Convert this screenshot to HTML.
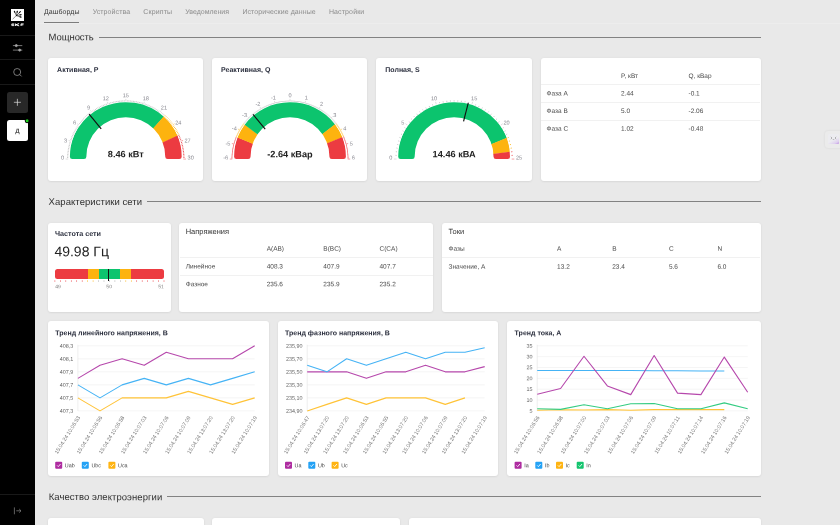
<!DOCTYPE html><html><head><meta charset="utf-8"><style>
*{box-sizing:border-box;margin:0;padding:0}
html,body{width:840px;height:525px;overflow:hidden;background:#e9e9e9;font-family:"Liberation Sans",sans-serif}
.abs{position:absolute}
.card{position:absolute;background:#fff;border-radius:3px;box-shadow:0 0 3px rgba(0,0,0,0.05),0 1px 2px rgba(0,0,0,0.05)}
.side{position:absolute;left:0;top:0;width:35px;height:525px;background:#000}
.sdiv{position:absolute;left:0;width:35px;height:1px;background:#191919}
.hl{position:absolute;height:1px;background:#828282}
.hr{position:absolute;height:1px;background:#f1f1f1}
svg{position:absolute;left:0;top:0;overflow:visible}
text{font-family:"Liberation Sans",sans-serif;text-rendering:geometricPrecision}
</style></head><body>

<div class="side">
<div class="abs" style="left:10.9px;top:8.8px;width:13px;height:12.3px;background:#fff"></div>
<div class="sdiv" style="top:35px"></div><div class="sdiv" style="top:59px"></div><div class="sdiv" style="top:84px"></div><div class="sdiv" style="top:494px"></div>
<div class="abs" style="left:6.8px;top:91.8px;width:21.2px;height:20.9px;border-radius:2.5px;background:#282828"></div>
<div class="abs" style="left:6.8px;top:119.8px;width:21.2px;height:21.1px;border-radius:2.5px;background:#fff"></div>
</div>
<div class="abs" style="left:35px;top:23px;width:805px;height:1px;background:#ededed"></div>
<div class="abs" style="left:44px;top:21.5px;width:35.4px;height:1px;background:#7c7c7c"></div>
<div class="hl" style="left:99px;top:36.5px;width:662px"></div>
<div class="hl" style="left:147px;top:201.1px;width:614px"></div>
<div class="hl" style="left:167px;top:496.3px;width:594px"></div>
<div class="card" style="left:48px;top:58px;width:155.3px;height:122.6px"></div>
<div class="card" style="left:212.2px;top:58px;width:155.3px;height:122.6px"></div>
<div class="card" style="left:376.3px;top:58px;width:155.3px;height:122.6px"></div>
<div class="card" style="left:540.5px;top:58px;width:220.5px;height:122.6px"></div>
<div class="card" style="left:48px;top:222.5px;width:122.80000000000001px;height:89.30000000000001px"></div>
<div class="card" style="left:179.4px;top:222.5px;width:253.6px;height:89.30000000000001px"></div>
<div class="card" style="left:442px;top:222.5px;width:319px;height:89.30000000000001px"></div>
<div class="card" style="left:48px;top:320.8px;width:221.10000000000002px;height:155.3px"></div>
<div class="card" style="left:277.9px;top:320.8px;width:220.60000000000002px;height:155.3px"></div>
<div class="card" style="left:507px;top:320.8px;width:254px;height:155.3px"></div>
<div class="card" style="left:48px;top:518px;width:155.5px;height:22px"></div>
<div class="card" style="left:212px;top:518px;width:188px;height:22px"></div>
<div class="card" style="left:409px;top:518px;width:352px;height:22px"></div>
<div class="hr" style="left:541px;top:84.2px;width:218.5px"></div>
<div class="hr" style="left:541px;top:101.9px;width:218.5px"></div>
<div class="hr" style="left:541px;top:119.5px;width:218.5px"></div>
<div class="abs" style="left:54.9px;top:268.8px;width:109.1px;height:9.8px;border-radius:2.5px;overflow:hidden;background:#ec3b41"><div class="abs" style="left:32.73000000000008px;top:0;width:43.639999999999844px;height:11px;background:#fdb30f"></div><div class="abs" style="left:43.63999999999985px;top:0;width:21.820000000000306px;height:11px;background:#0cc46e"></div></div>
<div class="abs" style="left:107.80899999999983px;top:268.8px;width:1.1px;height:12.6px;background:#111"></div>
<div class="hr" style="left:179.5px;top:257.1px;width:253.5px"></div>
<div class="hr" style="left:179.5px;top:274.7px;width:253.5px"></div>
<div class="hr" style="left:442px;top:256.7px;width:317.5px"></div>
<div class="abs" style="left:824.7px;top:131px;width:20px;height:17px;border-radius:3px;background:#ebebeb;box-shadow:0 0 2.5px rgba(0,0,0,0.08)"></div>
<div class="abs" style="left:828.2px;top:134px;width:10.7px;height:10.3px;border-radius:1px;background:linear-gradient(150deg,#ececf0 55%,#dfd0ef 82%,#bd90e2)"></div>
<svg width="840" height="525" viewBox="0 0 840 525"><g stroke="#e0e0e0" stroke-width="0.7" fill="none"><path d="M17.4 98.8V105.8M13.9 102.3H20.9"/></g>
<circle cx="27.1" cy="120.8" r="2.4" fill="#000"/><circle cx="27.1" cy="120.8" r="1.5" fill="#1fd11f"/>
<g stroke="#a8a8a8" stroke-width="0.7" fill="none">
<path d="M12.9 45.6H22.3M12.9 50.1H22.3"/><circle cx="16.3" cy="45.6" r="1.1" fill="#a8a8a8"/><circle cx="19.7" cy="50.1" r="1.1" fill="#a8a8a8"/>
<circle cx="17.2" cy="72" r="3.5"/><path d="M19.8 74.6L21.6 76.4"/>
</g>
<g stroke="#8a8a8a" stroke-width="0.7" fill="none"><path d="M14.4 507.4V514.3M16.3 510.8H21M19.2 509L21 510.8L19.2 512.6"/></g>
<g stroke="#111" fill="none" stroke-linecap="round"><path d="M12.9 18.9L16.4 15.6" stroke-width="0.45"/>
<path d="M16.4 15.6L14.4 11.4M16.4 15.6L17.3 11.3M16.4 15.6L20.2 11.8M16.4 15.6L21 14.7M16.4 15.6L20.9 17.1" stroke-width="0.6"/>
<path d="M14.8 12.3L14.4 11.3M17.1 12.3L17.3 11.2M19.4 12.6L20.3 11.7M20 14.9L21.1 14.7M19.9 16.8L21 17.1" stroke-width="1.1"/></g>
<g stroke="#fff" stroke-width="0.8" fill="none"><path d="M14.2 23.9H11.8V25.6H14.2M11.8 24.75H14"/><path d="M15.4 23.5V26M19.1 23.6L15.9 24.75L19.2 25.9" stroke-width="1"/><path d="M23.7 23.9H21V26M21 24.9H23.3" stroke-width="0.9"/></g>
<defs><clipPath id="c125"><path d="M69.9 156.65A55.9 55.9 0 0 1 181.7 156.65Q181.7 159.05 179.29999999999998 159.05L167.65 159.05Q165.25 159.05 165.25 156.65A39.45 39.45 0 0 0 86.35 156.65Q86.35 159.05 83.94999999999999 159.05L72.30000000000001 159.05Q69.9 159.05 69.9 156.65Z"/></clipPath></defs><g clip-path="url(#c125)"><path d="M68.90 159.05A56.9 56.9 0 0 1 163.87 116.77L151.53 130.48A38.45 38.45 0 0 0 87.35 159.05Z" fill="#0cc46e"/><path d="M163.61 116.53A56.9 56.9 0 0 1 177.78 135.91L160.93 143.41A38.45 38.45 0 0 0 151.35 130.31Z" fill="#fdb30f"/><path d="M177.63 135.58A56.9 56.9 0 0 1 182.70 159.05L164.25 159.05A38.45 38.45 0 0 0 160.83 143.19Z" fill="#ec3b41"/></g><path d="M68.20 159.05L65.60 159.05" stroke="#bcbcbc" stroke-width="0.6" opacity="0.8"/><path d="M68.22 157.54L67.12 157.51" stroke="#bcbcbc" stroke-width="0.85" opacity="1"/><path d="M68.28 156.04L67.18 155.98" stroke="#bcbcbc" stroke-width="0.85" opacity="1"/><path d="M68.38 154.53L67.28 154.44" stroke="#bcbcbc" stroke-width="0.85" opacity="1"/><path d="M68.52 153.03L67.42 152.91" stroke="#bcbcbc" stroke-width="0.85" opacity="1"/><path d="M68.69 151.53L67.60 151.39" stroke="#bcbcbc" stroke-width="0.85" opacity="1"/><path d="M68.91 150.04L67.82 149.87" stroke="#bcbcbc" stroke-width="0.85" opacity="1"/><path d="M69.16 148.55L68.08 148.35" stroke="#bcbcbc" stroke-width="0.85" opacity="1"/><path d="M69.46 147.07L68.38 146.85" stroke="#bcbcbc" stroke-width="0.85" opacity="1"/><path d="M69.79 145.60L68.72 145.35" stroke="#bcbcbc" stroke-width="0.85" opacity="1"/><path d="M70.16 144.14L69.10 143.86" stroke="#bcbcbc" stroke-width="0.85" opacity="1"/><path d="M70.57 142.69L69.52 142.38" stroke="#bcbcbc" stroke-width="0.85" opacity="1"/><path d="M71.02 141.25L68.55 140.45" stroke="#bcbcbc" stroke-width="0.6" opacity="0.8"/><path d="M71.50 139.82L70.47 139.46" stroke="#bcbcbc" stroke-width="0.85" opacity="1"/><path d="M72.03 138.41L71.00 138.01" stroke="#bcbcbc" stroke-width="0.85" opacity="1"/><path d="M72.58 137.01L71.57 136.59" stroke="#bcbcbc" stroke-width="0.85" opacity="1"/><path d="M73.18 135.62L72.17 135.17" stroke="#bcbcbc" stroke-width="0.85" opacity="1"/><path d="M73.81 134.25L72.82 133.78" stroke="#bcbcbc" stroke-width="0.85" opacity="1"/><path d="M74.48 132.90L73.50 132.40" stroke="#bcbcbc" stroke-width="0.85" opacity="1"/><path d="M75.18 131.57L74.21 131.04" stroke="#bcbcbc" stroke-width="0.85" opacity="1"/><path d="M75.92 130.25L74.96 129.70" stroke="#bcbcbc" stroke-width="0.85" opacity="1"/><path d="M76.69 128.95L75.75 128.38" stroke="#bcbcbc" stroke-width="0.85" opacity="1"/><path d="M77.49 127.68L76.57 127.08" stroke="#bcbcbc" stroke-width="0.85" opacity="1"/><path d="M78.33 126.43L77.42 125.80" stroke="#bcbcbc" stroke-width="0.85" opacity="1"/><path d="M79.20 125.19L77.10 123.67" stroke="#bcbcbc" stroke-width="0.6" opacity="0.8"/><path d="M80.10 123.99L79.23 123.32" stroke="#bcbcbc" stroke-width="0.85" opacity="1"/><path d="M81.04 122.80L80.18 122.11" stroke="#bcbcbc" stroke-width="0.85" opacity="1"/><path d="M82.00 121.64L81.16 120.93" stroke="#bcbcbc" stroke-width="0.85" opacity="1"/><path d="M82.99 120.51L82.18 119.77" stroke="#bcbcbc" stroke-width="0.85" opacity="1"/><path d="M84.02 119.40L83.22 118.64" stroke="#bcbcbc" stroke-width="0.85" opacity="1"/><path d="M85.07 118.32L84.29 117.54" stroke="#bcbcbc" stroke-width="0.85" opacity="1"/><path d="M86.15 117.27L85.39 116.47" stroke="#bcbcbc" stroke-width="0.85" opacity="1"/><path d="M87.26 116.24L86.52 115.43" stroke="#bcbcbc" stroke-width="0.85" opacity="1"/><path d="M88.39 115.25L87.68 114.41" stroke="#bcbcbc" stroke-width="0.85" opacity="1"/><path d="M89.55 114.29L88.86 113.43" stroke="#bcbcbc" stroke-width="0.85" opacity="1"/><path d="M90.74 113.35L90.07 112.48" stroke="#bcbcbc" stroke-width="0.85" opacity="1"/><path d="M91.94 112.45L90.42 110.35" stroke="#bcbcbc" stroke-width="0.6" opacity="0.8"/><path d="M93.18 111.58L92.55 110.67" stroke="#bcbcbc" stroke-width="0.85" opacity="1"/><path d="M94.43 110.74L93.83 109.82" stroke="#bcbcbc" stroke-width="0.85" opacity="1"/><path d="M95.70 109.94L95.13 109.00" stroke="#bcbcbc" stroke-width="0.85" opacity="1"/><path d="M97.00 109.17L96.45 108.21" stroke="#bcbcbc" stroke-width="0.85" opacity="1"/><path d="M98.32 108.43L97.79 107.46" stroke="#bcbcbc" stroke-width="0.85" opacity="1"/><path d="M99.65 107.73L99.15 106.75" stroke="#bcbcbc" stroke-width="0.85" opacity="1"/><path d="M101.00 107.06L100.53 106.07" stroke="#bcbcbc" stroke-width="0.85" opacity="1"/><path d="M102.37 106.43L101.92 105.42" stroke="#bcbcbc" stroke-width="0.85" opacity="1"/><path d="M103.76 105.83L103.34 104.82" stroke="#bcbcbc" stroke-width="0.85" opacity="1"/><path d="M105.16 105.28L104.76 104.25" stroke="#bcbcbc" stroke-width="0.85" opacity="1"/><path d="M106.57 104.75L106.21 103.72" stroke="#bcbcbc" stroke-width="0.85" opacity="1"/><path d="M108.00 104.27L107.20 101.80" stroke="#bcbcbc" stroke-width="0.6" opacity="0.8"/><path d="M109.44 103.82L109.13 102.77" stroke="#bcbcbc" stroke-width="0.85" opacity="1"/><path d="M110.89 103.41L110.61 102.35" stroke="#bcbcbc" stroke-width="0.85" opacity="1"/><path d="M112.35 103.04L112.10 101.97" stroke="#bcbcbc" stroke-width="0.85" opacity="1"/><path d="M113.82 102.71L113.60 101.63" stroke="#bcbcbc" stroke-width="0.85" opacity="1"/><path d="M115.30 102.41L115.10 101.33" stroke="#bcbcbc" stroke-width="0.85" opacity="1"/><path d="M116.79 102.16L116.62 101.07" stroke="#bcbcbc" stroke-width="0.85" opacity="1"/><path d="M118.28 101.94L118.14 100.85" stroke="#bcbcbc" stroke-width="0.85" opacity="1"/><path d="M119.78 101.77L119.66 100.67" stroke="#bcbcbc" stroke-width="0.85" opacity="1"/><path d="M121.28 101.63L121.19 100.53" stroke="#bcbcbc" stroke-width="0.85" opacity="1"/><path d="M122.79 101.53L122.73 100.43" stroke="#bcbcbc" stroke-width="0.85" opacity="1"/><path d="M124.29 101.47L124.26 100.37" stroke="#bcbcbc" stroke-width="0.85" opacity="1"/><path d="M125.80 101.45L125.80 98.85" stroke="#bcbcbc" stroke-width="0.6" opacity="0.8"/><path d="M127.31 101.47L127.34 100.37" stroke="#bcbcbc" stroke-width="0.85" opacity="1"/><path d="M128.81 101.53L128.87 100.43" stroke="#bcbcbc" stroke-width="0.85" opacity="1"/><path d="M130.32 101.63L130.41 100.53" stroke="#bcbcbc" stroke-width="0.85" opacity="1"/><path d="M131.82 101.77L131.94 100.67" stroke="#bcbcbc" stroke-width="0.85" opacity="1"/><path d="M133.32 101.94L133.46 100.85" stroke="#bcbcbc" stroke-width="0.85" opacity="1"/><path d="M134.81 102.16L134.98 101.07" stroke="#bcbcbc" stroke-width="0.85" opacity="1"/><path d="M136.30 102.41L136.50 101.33" stroke="#bcbcbc" stroke-width="0.85" opacity="1"/><path d="M137.78 102.71L138.00 101.63" stroke="#bcbcbc" stroke-width="0.85" opacity="1"/><path d="M139.25 103.04L139.50 101.97" stroke="#bcbcbc" stroke-width="0.85" opacity="1"/><path d="M140.71 103.41L140.99 102.35" stroke="#bcbcbc" stroke-width="0.85" opacity="1"/><path d="M142.16 103.82L142.47 102.77" stroke="#bcbcbc" stroke-width="0.85" opacity="1"/><path d="M143.60 104.27L144.40 101.80" stroke="#bcbcbc" stroke-width="0.6" opacity="0.8"/><path d="M145.03 104.75L145.39 103.72" stroke="#bcbcbc" stroke-width="0.85" opacity="1"/><path d="M146.44 105.28L146.84 104.25" stroke="#bcbcbc" stroke-width="0.85" opacity="1"/><path d="M147.84 105.83L148.26 104.82" stroke="#bcbcbc" stroke-width="0.85" opacity="1"/><path d="M149.23 106.43L149.68 105.42" stroke="#bcbcbc" stroke-width="0.85" opacity="1"/><path d="M150.60 107.06L151.07 106.07" stroke="#bcbcbc" stroke-width="0.85" opacity="1"/><path d="M151.95 107.73L152.45 106.75" stroke="#bcbcbc" stroke-width="0.85" opacity="1"/><path d="M153.28 108.43L153.81 107.46" stroke="#bcbcbc" stroke-width="0.85" opacity="1"/><path d="M154.60 109.17L155.15 108.21" stroke="#bcbcbc" stroke-width="0.85" opacity="1"/><path d="M155.90 109.94L156.47 109.00" stroke="#bcbcbc" stroke-width="0.85" opacity="1"/><path d="M157.17 110.74L157.77 109.82" stroke="#bcbcbc" stroke-width="0.85" opacity="1"/><path d="M158.42 111.58L159.05 110.67" stroke="#bcbcbc" stroke-width="0.85" opacity="1"/><path d="M159.66 112.45L161.18 110.35" stroke="#bcbcbc" stroke-width="0.6" opacity="0.8"/><path d="M160.86 113.35L161.53 112.48" stroke="#bcbcbc" stroke-width="0.85" opacity="1"/><path d="M162.05 114.29L162.74 113.43" stroke="#bcbcbc" stroke-width="0.85" opacity="1"/><path d="M163.21 115.25L163.92 114.41" stroke="#bcbcbc" stroke-width="0.85" opacity="1"/><path d="M164.34 116.24L165.08 115.43" stroke="#fdb30f" stroke-width="0.85" opacity="1"/><path d="M165.45 117.27L166.21 116.47" stroke="#fdb30f" stroke-width="0.85" opacity="1"/><path d="M166.53 118.32L167.31 117.54" stroke="#fdb30f" stroke-width="0.85" opacity="1"/><path d="M167.58 119.40L168.38 118.64" stroke="#fdb30f" stroke-width="0.85" opacity="1"/><path d="M168.61 120.51L169.42 119.77" stroke="#fdb30f" stroke-width="0.85" opacity="1"/><path d="M169.60 121.64L170.44 120.93" stroke="#fdb30f" stroke-width="0.85" opacity="1"/><path d="M170.56 122.80L171.42 122.11" stroke="#fdb30f" stroke-width="0.85" opacity="1"/><path d="M171.50 123.99L172.37 123.32" stroke="#fdb30f" stroke-width="0.85" opacity="1"/><path d="M172.40 125.19L174.50 123.67" stroke="#fdb30f" stroke-width="0.6" opacity="0.8"/><path d="M173.27 126.43L174.18 125.80" stroke="#fdb30f" stroke-width="0.85" opacity="1"/><path d="M174.11 127.68L175.03 127.08" stroke="#fdb30f" stroke-width="0.85" opacity="1"/><path d="M174.91 128.95L175.85 128.38" stroke="#fdb30f" stroke-width="0.85" opacity="1"/><path d="M175.68 130.25L176.64 129.70" stroke="#fdb30f" stroke-width="0.85" opacity="1"/><path d="M176.42 131.57L177.39 131.04" stroke="#fdb30f" stroke-width="0.85" opacity="1"/><path d="M177.12 132.90L178.10 132.40" stroke="#fdb30f" stroke-width="0.85" opacity="1"/><path d="M177.79 134.25L178.78 133.78" stroke="#fdb30f" stroke-width="0.85" opacity="1"/><path d="M178.42 135.62L179.43 135.17" stroke="#ec3b41" stroke-width="0.85" opacity="1"/><path d="M179.02 137.01L180.03 136.59" stroke="#ec3b41" stroke-width="0.85" opacity="1"/><path d="M179.57 138.41L180.60 138.01" stroke="#ec3b41" stroke-width="0.85" opacity="1"/><path d="M180.10 139.82L181.13 139.46" stroke="#ec3b41" stroke-width="0.85" opacity="1"/><path d="M180.58 141.25L183.05 140.45" stroke="#ec3b41" stroke-width="0.6" opacity="0.8"/><path d="M181.03 142.69L182.08 142.38" stroke="#ec3b41" stroke-width="0.85" opacity="1"/><path d="M181.44 144.14L182.50 143.86" stroke="#ec3b41" stroke-width="0.85" opacity="1"/><path d="M181.81 145.60L182.88 145.35" stroke="#ec3b41" stroke-width="0.85" opacity="1"/><path d="M182.14 147.07L183.22 146.85" stroke="#ec3b41" stroke-width="0.85" opacity="1"/><path d="M182.44 148.55L183.52 148.35" stroke="#ec3b41" stroke-width="0.85" opacity="1"/><path d="M182.69 150.04L183.78 149.87" stroke="#ec3b41" stroke-width="0.85" opacity="1"/><path d="M182.91 151.53L184.00 151.39" stroke="#ec3b41" stroke-width="0.85" opacity="1"/><path d="M183.08 153.03L184.18 152.91" stroke="#ec3b41" stroke-width="0.85" opacity="1"/><path d="M183.22 154.53L184.32 154.44" stroke="#ec3b41" stroke-width="0.85" opacity="1"/><path d="M183.32 156.04L184.42 155.98" stroke="#ec3b41" stroke-width="0.85" opacity="1"/><path d="M183.38 157.54L184.48 157.51" stroke="#ec3b41" stroke-width="0.85" opacity="1"/><path d="M183.40 159.05L186.00 159.05" stroke="#ec3b41" stroke-width="0.6" opacity="0.8"/><path d="M89.11 114.13L101.19 128.92" stroke="#111" stroke-width="1.15"/>
<defs><clipPath id="c290"><path d="M234.1 156.65A55.9 55.9 0 0 1 345.9 156.65Q345.9 159.05 343.5 159.05L331.84999999999997 159.05Q329.45 159.05 329.45 156.65A39.45 39.45 0 0 0 250.55 156.65Q250.55 159.05 248.15 159.05L236.5 159.05Q234.1 159.05 234.1 156.65Z"/></clipPath></defs><g clip-path="url(#c290)"><path d="M233.10 159.05A56.9 56.9 0 0 1 237.43 137.28L254.48 144.34A38.45 38.45 0 0 0 251.55 159.05Z" fill="#ec3b41"/><path d="M237.30 137.61A56.9 56.9 0 0 1 244.86 124.41L259.50 135.64A38.45 38.45 0 0 0 254.39 144.56Z" fill="#fdb30f"/><path d="M244.64 124.70A56.9 56.9 0 0 1 335.14 124.41L320.50 135.64A38.45 38.45 0 0 0 259.35 135.84Z" fill="#0cc46e"/><path d="M334.92 124.13A56.9 56.9 0 0 1 342.57 137.28L325.52 144.34A38.45 38.45 0 0 0 320.36 135.45Z" fill="#fdb30f"/><path d="M342.43 136.95A56.9 56.9 0 0 1 346.90 159.05L328.45 159.05A38.45 38.45 0 0 0 325.43 144.11Z" fill="#ec3b41"/></g><path d="M232.25 159.05L229.80 159.05" stroke="#ec3b41" stroke-width="0.6" opacity="0.8"/><path d="M232.25 158.29L231.65 158.29" stroke="#ec3b41" stroke-width="0.85" opacity="1"/><path d="M232.27 157.54L231.67 157.52" stroke="#ec3b41" stroke-width="0.85" opacity="1"/><path d="M232.29 156.78L231.69 156.76" stroke="#ec3b41" stroke-width="0.85" opacity="1"/><path d="M232.33 156.03L231.73 156.00" stroke="#ec3b41" stroke-width="0.85" opacity="1"/><path d="M232.37 155.27L231.77 155.23" stroke="#ec3b41" stroke-width="0.85" opacity="1"/><path d="M232.43 154.52L231.83 154.47" stroke="#ec3b41" stroke-width="0.85" opacity="1"/><path d="M232.49 153.77L231.89 153.71" stroke="#ec3b41" stroke-width="0.85" opacity="1"/><path d="M232.57 153.01L231.97 152.95" stroke="#ec3b41" stroke-width="0.85" opacity="1"/><path d="M232.65 152.26L232.05 152.19" stroke="#ec3b41" stroke-width="0.85" opacity="1"/><path d="M232.74 151.51L232.15 151.43" stroke="#ec3b41" stroke-width="0.85" opacity="1"/><path d="M232.85 150.76L232.25 150.68" stroke="#ec3b41" stroke-width="0.85" opacity="1"/><path d="M232.96 150.02L232.37 149.92" stroke="#ec3b41" stroke-width="0.85" opacity="1"/><path d="M233.08 149.27L232.49 149.17" stroke="#ec3b41" stroke-width="0.85" opacity="1"/><path d="M233.22 148.53L232.63 148.42" stroke="#ec3b41" stroke-width="0.85" opacity="1"/><path d="M233.36 147.78L232.77 147.67" stroke="#ec3b41" stroke-width="0.85" opacity="1"/><path d="M233.51 147.04L232.93 146.92" stroke="#ec3b41" stroke-width="0.85" opacity="1"/><path d="M233.67 146.30L233.09 146.17" stroke="#ec3b41" stroke-width="0.85" opacity="1"/><path d="M233.85 145.57L233.26 145.43" stroke="#ec3b41" stroke-width="0.85" opacity="1"/><path d="M234.03 144.83L233.45 144.69" stroke="#ec3b41" stroke-width="0.85" opacity="1"/><path d="M234.22 144.10L231.85 143.47" stroke="#ec3b41" stroke-width="0.6" opacity="0.8"/><path d="M234.42 143.37L233.84 143.21" stroke="#ec3b41" stroke-width="0.85" opacity="1"/><path d="M234.63 142.65L234.05 142.48" stroke="#ec3b41" stroke-width="0.85" opacity="1"/><path d="M234.85 141.92L234.27 141.75" stroke="#ec3b41" stroke-width="0.85" opacity="1"/><path d="M235.08 141.20L234.51 141.02" stroke="#ec3b41" stroke-width="0.85" opacity="1"/><path d="M235.31 140.49L234.75 140.29" stroke="#ec3b41" stroke-width="0.85" opacity="1"/><path d="M235.56 139.77L235.00 139.57" stroke="#ec3b41" stroke-width="0.85" opacity="1"/><path d="M235.82 139.06L235.26 138.85" stroke="#ec3b41" stroke-width="0.85" opacity="1"/><path d="M236.09 138.35L235.53 138.14" stroke="#ec3b41" stroke-width="0.85" opacity="1"/><path d="M236.36 137.65L235.80 137.43" stroke="#ec3b41" stroke-width="0.85" opacity="1"/><path d="M236.65 136.95L236.09 136.72" stroke="#fdb30f" stroke-width="0.85" opacity="1"/><path d="M236.94 136.25L236.39 136.02" stroke="#fdb30f" stroke-width="0.85" opacity="1"/><path d="M237.24 135.56L236.69 135.32" stroke="#fdb30f" stroke-width="0.85" opacity="1"/><path d="M237.55 134.87L237.01 134.62" stroke="#fdb30f" stroke-width="0.85" opacity="1"/><path d="M237.88 134.19L237.33 133.93" stroke="#fdb30f" stroke-width="0.85" opacity="1"/><path d="M238.21 133.51L237.67 133.24" stroke="#fdb30f" stroke-width="0.85" opacity="1"/><path d="M238.54 132.83L238.01 132.56" stroke="#fdb30f" stroke-width="0.85" opacity="1"/><path d="M238.89 132.16L238.36 131.88" stroke="#fdb30f" stroke-width="0.85" opacity="1"/><path d="M239.25 131.49L238.72 131.21" stroke="#fdb30f" stroke-width="0.85" opacity="1"/><path d="M239.61 130.83L239.09 130.54" stroke="#fdb30f" stroke-width="0.85" opacity="1"/><path d="M239.99 130.18L237.87 128.95" stroke="#fdb30f" stroke-width="0.6" opacity="0.8"/><path d="M240.37 129.52L239.85 129.22" stroke="#fdb30f" stroke-width="0.85" opacity="1"/><path d="M240.76 128.88L240.25 128.56" stroke="#fdb30f" stroke-width="0.85" opacity="1"/><path d="M241.16 128.23L240.65 127.91" stroke="#fdb30f" stroke-width="0.85" opacity="1"/><path d="M241.57 127.60L241.06 127.27" stroke="#fdb30f" stroke-width="0.85" opacity="1"/><path d="M241.98 126.97L241.48 126.63" stroke="#fdb30f" stroke-width="0.85" opacity="1"/><path d="M242.41 126.34L241.91 126.00" stroke="#fdb30f" stroke-width="0.85" opacity="1"/><path d="M242.84 125.72L242.35 125.37" stroke="#fdb30f" stroke-width="0.85" opacity="1"/><path d="M243.28 125.11L242.79 124.75" stroke="#fdb30f" stroke-width="0.85" opacity="1"/><path d="M243.73 124.50L243.25 124.14" stroke="#fdb30f" stroke-width="0.85" opacity="1"/><path d="M244.18 123.89L243.71 123.53" stroke="#fdb30f" stroke-width="0.85" opacity="1"/><path d="M244.65 123.30L244.18 122.93" stroke="#bcbcbc" stroke-width="0.85" opacity="1"/><path d="M245.12 122.71L244.65 122.33" stroke="#bcbcbc" stroke-width="0.85" opacity="1"/><path d="M245.60 122.12L245.14 121.74" stroke="#bcbcbc" stroke-width="0.85" opacity="1"/><path d="M246.09 121.54L245.63 121.15" stroke="#bcbcbc" stroke-width="0.85" opacity="1"/><path d="M246.58 120.97L246.13 120.58" stroke="#bcbcbc" stroke-width="0.85" opacity="1"/><path d="M247.08 120.41L246.64 120.01" stroke="#bcbcbc" stroke-width="0.85" opacity="1"/><path d="M247.59 119.85L247.15 119.44" stroke="#bcbcbc" stroke-width="0.85" opacity="1"/><path d="M248.11 119.30L247.67 118.88" stroke="#bcbcbc" stroke-width="0.85" opacity="1"/><path d="M248.63 118.75L248.20 118.33" stroke="#bcbcbc" stroke-width="0.85" opacity="1"/><path d="M249.16 118.21L247.43 116.48" stroke="#bcbcbc" stroke-width="0.6" opacity="0.8"/><path d="M249.70 117.68L249.28 117.25" stroke="#bcbcbc" stroke-width="0.85" opacity="1"/><path d="M250.25 117.16L249.83 116.72" stroke="#bcbcbc" stroke-width="0.85" opacity="1"/><path d="M250.80 116.64L250.39 116.20" stroke="#bcbcbc" stroke-width="0.85" opacity="1"/><path d="M251.36 116.13L250.96 115.69" stroke="#bcbcbc" stroke-width="0.85" opacity="1"/><path d="M251.92 115.63L251.53 115.18" stroke="#bcbcbc" stroke-width="0.85" opacity="1"/><path d="M252.49 115.14L252.10 114.68" stroke="#bcbcbc" stroke-width="0.85" opacity="1"/><path d="M253.07 114.65L252.69 114.19" stroke="#bcbcbc" stroke-width="0.85" opacity="1"/><path d="M253.66 114.17L253.28 113.70" stroke="#bcbcbc" stroke-width="0.85" opacity="1"/><path d="M254.25 113.70L253.88 113.23" stroke="#bcbcbc" stroke-width="0.85" opacity="1"/><path d="M254.84 113.23L254.48 112.76" stroke="#bcbcbc" stroke-width="0.85" opacity="1"/><path d="M255.45 112.78L255.09 112.30" stroke="#bcbcbc" stroke-width="0.85" opacity="1"/><path d="M256.06 112.33L255.70 111.84" stroke="#bcbcbc" stroke-width="0.85" opacity="1"/><path d="M256.67 111.89L256.32 111.40" stroke="#bcbcbc" stroke-width="0.85" opacity="1"/><path d="M257.29 111.46L256.95 110.96" stroke="#bcbcbc" stroke-width="0.85" opacity="1"/><path d="M257.92 111.03L257.58 110.53" stroke="#bcbcbc" stroke-width="0.85" opacity="1"/><path d="M258.55 110.62L258.22 110.11" stroke="#bcbcbc" stroke-width="0.85" opacity="1"/><path d="M259.18 110.21L258.86 109.70" stroke="#bcbcbc" stroke-width="0.85" opacity="1"/><path d="M259.83 109.81L259.51 109.30" stroke="#bcbcbc" stroke-width="0.85" opacity="1"/><path d="M260.47 109.42L260.17 108.90" stroke="#bcbcbc" stroke-width="0.85" opacity="1"/><path d="M261.12 109.04L259.90 106.92" stroke="#bcbcbc" stroke-width="0.6" opacity="0.8"/><path d="M261.78 108.66L261.49 108.14" stroke="#bcbcbc" stroke-width="0.85" opacity="1"/><path d="M262.44 108.30L262.16 107.77" stroke="#bcbcbc" stroke-width="0.85" opacity="1"/><path d="M263.11 107.94L262.83 107.41" stroke="#bcbcbc" stroke-width="0.85" opacity="1"/><path d="M263.78 107.59L263.51 107.06" stroke="#bcbcbc" stroke-width="0.85" opacity="1"/><path d="M264.46 107.26L264.19 106.72" stroke="#bcbcbc" stroke-width="0.85" opacity="1"/><path d="M265.14 106.93L264.88 106.38" stroke="#bcbcbc" stroke-width="0.85" opacity="1"/><path d="M265.82 106.60L265.57 106.06" stroke="#bcbcbc" stroke-width="0.85" opacity="1"/><path d="M266.51 106.29L266.27 105.74" stroke="#bcbcbc" stroke-width="0.85" opacity="1"/><path d="M267.20 105.99L266.97 105.44" stroke="#bcbcbc" stroke-width="0.85" opacity="1"/><path d="M267.90 105.70L267.67 105.14" stroke="#bcbcbc" stroke-width="0.85" opacity="1"/><path d="M268.60 105.41L268.38 104.85" stroke="#bcbcbc" stroke-width="0.85" opacity="1"/><path d="M269.30 105.14L269.09 104.58" stroke="#bcbcbc" stroke-width="0.85" opacity="1"/><path d="M270.01 104.87L269.80 104.31" stroke="#bcbcbc" stroke-width="0.85" opacity="1"/><path d="M270.72 104.61L270.52 104.05" stroke="#bcbcbc" stroke-width="0.85" opacity="1"/><path d="M271.44 104.36L271.24 103.80" stroke="#bcbcbc" stroke-width="0.85" opacity="1"/><path d="M272.15 104.13L271.97 103.56" stroke="#bcbcbc" stroke-width="0.85" opacity="1"/><path d="M272.87 103.90L272.70 103.32" stroke="#bcbcbc" stroke-width="0.85" opacity="1"/><path d="M273.60 103.68L273.43 103.10" stroke="#bcbcbc" stroke-width="0.85" opacity="1"/><path d="M274.32 103.47L274.16 102.89" stroke="#bcbcbc" stroke-width="0.85" opacity="1"/><path d="M275.05 103.27L274.42 100.90" stroke="#bcbcbc" stroke-width="0.6" opacity="0.8"/><path d="M275.78 103.08L275.64 102.50" stroke="#bcbcbc" stroke-width="0.85" opacity="1"/><path d="M276.52 102.90L276.38 102.31" stroke="#bcbcbc" stroke-width="0.85" opacity="1"/><path d="M277.25 102.72L277.12 102.14" stroke="#bcbcbc" stroke-width="0.85" opacity="1"/><path d="M277.99 102.56L277.87 101.98" stroke="#bcbcbc" stroke-width="0.85" opacity="1"/><path d="M278.73 102.41L278.62 101.82" stroke="#bcbcbc" stroke-width="0.85" opacity="1"/><path d="M279.48 102.27L279.37 101.68" stroke="#bcbcbc" stroke-width="0.85" opacity="1"/><path d="M280.22 102.13L280.12 101.54" stroke="#bcbcbc" stroke-width="0.85" opacity="1"/><path d="M280.97 102.01L280.87 101.42" stroke="#bcbcbc" stroke-width="0.85" opacity="1"/><path d="M281.71 101.90L281.63 101.30" stroke="#bcbcbc" stroke-width="0.85" opacity="1"/><path d="M282.46 101.79L282.38 101.20" stroke="#bcbcbc" stroke-width="0.85" opacity="1"/><path d="M283.21 101.70L283.14 101.10" stroke="#bcbcbc" stroke-width="0.85" opacity="1"/><path d="M283.96 101.62L283.90 101.02" stroke="#bcbcbc" stroke-width="0.85" opacity="1"/><path d="M284.72 101.54L284.66 100.94" stroke="#bcbcbc" stroke-width="0.85" opacity="1"/><path d="M285.47 101.48L285.42 100.88" stroke="#bcbcbc" stroke-width="0.85" opacity="1"/><path d="M286.22 101.42L286.18 100.82" stroke="#bcbcbc" stroke-width="0.85" opacity="1"/><path d="M286.98 101.38L286.95 100.78" stroke="#bcbcbc" stroke-width="0.85" opacity="1"/><path d="M287.73 101.34L287.71 100.74" stroke="#bcbcbc" stroke-width="0.85" opacity="1"/><path d="M288.49 101.32L288.47 100.72" stroke="#bcbcbc" stroke-width="0.85" opacity="1"/><path d="M289.24 101.30L289.24 100.70" stroke="#bcbcbc" stroke-width="0.85" opacity="1"/><path d="M290.00 101.30L290.00 98.85" stroke="#bcbcbc" stroke-width="0.6" opacity="0.8"/><path d="M290.76 101.30L290.76 100.70" stroke="#bcbcbc" stroke-width="0.85" opacity="1"/><path d="M291.51 101.32L291.53 100.72" stroke="#bcbcbc" stroke-width="0.85" opacity="1"/><path d="M292.27 101.34L292.29 100.74" stroke="#bcbcbc" stroke-width="0.85" opacity="1"/><path d="M293.02 101.38L293.05 100.78" stroke="#bcbcbc" stroke-width="0.85" opacity="1"/><path d="M293.78 101.42L293.82 100.82" stroke="#bcbcbc" stroke-width="0.85" opacity="1"/><path d="M294.53 101.48L294.58 100.88" stroke="#bcbcbc" stroke-width="0.85" opacity="1"/><path d="M295.28 101.54L295.34 100.94" stroke="#bcbcbc" stroke-width="0.85" opacity="1"/><path d="M296.04 101.62L296.10 101.02" stroke="#bcbcbc" stroke-width="0.85" opacity="1"/><path d="M296.79 101.70L296.86 101.10" stroke="#bcbcbc" stroke-width="0.85" opacity="1"/><path d="M297.54 101.79L297.62 101.20" stroke="#bcbcbc" stroke-width="0.85" opacity="1"/><path d="M298.29 101.90L298.37 101.30" stroke="#bcbcbc" stroke-width="0.85" opacity="1"/><path d="M299.03 102.01L299.13 101.42" stroke="#bcbcbc" stroke-width="0.85" opacity="1"/><path d="M299.78 102.13L299.88 101.54" stroke="#bcbcbc" stroke-width="0.85" opacity="1"/><path d="M300.52 102.27L300.63 101.68" stroke="#bcbcbc" stroke-width="0.85" opacity="1"/><path d="M301.27 102.41L301.38 101.82" stroke="#bcbcbc" stroke-width="0.85" opacity="1"/><path d="M302.01 102.56L302.13 101.98" stroke="#bcbcbc" stroke-width="0.85" opacity="1"/><path d="M302.75 102.72L302.88 102.14" stroke="#bcbcbc" stroke-width="0.85" opacity="1"/><path d="M303.48 102.90L303.62 102.31" stroke="#bcbcbc" stroke-width="0.85" opacity="1"/><path d="M304.22 103.08L304.36 102.50" stroke="#bcbcbc" stroke-width="0.85" opacity="1"/><path d="M304.95 103.27L305.58 100.90" stroke="#bcbcbc" stroke-width="0.6" opacity="0.8"/><path d="M305.68 103.47L305.84 102.89" stroke="#bcbcbc" stroke-width="0.85" opacity="1"/><path d="M306.40 103.68L306.57 103.10" stroke="#bcbcbc" stroke-width="0.85" opacity="1"/><path d="M307.13 103.90L307.30 103.32" stroke="#bcbcbc" stroke-width="0.85" opacity="1"/><path d="M307.85 104.13L308.03 103.56" stroke="#bcbcbc" stroke-width="0.85" opacity="1"/><path d="M308.56 104.36L308.76 103.80" stroke="#bcbcbc" stroke-width="0.85" opacity="1"/><path d="M309.28 104.61L309.48 104.05" stroke="#bcbcbc" stroke-width="0.85" opacity="1"/><path d="M309.99 104.87L310.20 104.31" stroke="#bcbcbc" stroke-width="0.85" opacity="1"/><path d="M310.70 105.14L310.91 104.58" stroke="#bcbcbc" stroke-width="0.85" opacity="1"/><path d="M311.40 105.41L311.62 104.85" stroke="#bcbcbc" stroke-width="0.85" opacity="1"/><path d="M312.10 105.70L312.33 105.14" stroke="#bcbcbc" stroke-width="0.85" opacity="1"/><path d="M312.80 105.99L313.03 105.44" stroke="#bcbcbc" stroke-width="0.85" opacity="1"/><path d="M313.49 106.29L313.73 105.74" stroke="#bcbcbc" stroke-width="0.85" opacity="1"/><path d="M314.18 106.60L314.43 106.06" stroke="#bcbcbc" stroke-width="0.85" opacity="1"/><path d="M314.86 106.93L315.12 106.38" stroke="#bcbcbc" stroke-width="0.85" opacity="1"/><path d="M315.54 107.26L315.81 106.72" stroke="#bcbcbc" stroke-width="0.85" opacity="1"/><path d="M316.22 107.59L316.49 107.06" stroke="#bcbcbc" stroke-width="0.85" opacity="1"/><path d="M316.89 107.94L317.17 107.41" stroke="#bcbcbc" stroke-width="0.85" opacity="1"/><path d="M317.56 108.30L317.84 107.77" stroke="#bcbcbc" stroke-width="0.85" opacity="1"/><path d="M318.22 108.66L318.51 108.14" stroke="#bcbcbc" stroke-width="0.85" opacity="1"/><path d="M318.88 109.04L320.10 106.92" stroke="#bcbcbc" stroke-width="0.6" opacity="0.8"/><path d="M319.53 109.42L319.83 108.90" stroke="#bcbcbc" stroke-width="0.85" opacity="1"/><path d="M320.17 109.81L320.49 109.30" stroke="#bcbcbc" stroke-width="0.85" opacity="1"/><path d="M320.82 110.21L321.14 109.70" stroke="#bcbcbc" stroke-width="0.85" opacity="1"/><path d="M321.45 110.62L321.78 110.11" stroke="#bcbcbc" stroke-width="0.85" opacity="1"/><path d="M322.08 111.03L322.42 110.53" stroke="#bcbcbc" stroke-width="0.85" opacity="1"/><path d="M322.71 111.46L323.05 110.96" stroke="#bcbcbc" stroke-width="0.85" opacity="1"/><path d="M323.33 111.89L323.68 111.40" stroke="#bcbcbc" stroke-width="0.85" opacity="1"/><path d="M323.94 112.33L324.30 111.84" stroke="#bcbcbc" stroke-width="0.85" opacity="1"/><path d="M324.55 112.78L324.91 112.30" stroke="#bcbcbc" stroke-width="0.85" opacity="1"/><path d="M325.16 113.23L325.52 112.76" stroke="#bcbcbc" stroke-width="0.85" opacity="1"/><path d="M325.75 113.70L326.12 113.23" stroke="#bcbcbc" stroke-width="0.85" opacity="1"/><path d="M326.34 114.17L326.72 113.70" stroke="#bcbcbc" stroke-width="0.85" opacity="1"/><path d="M326.93 114.65L327.31 114.19" stroke="#bcbcbc" stroke-width="0.85" opacity="1"/><path d="M327.51 115.14L327.90 114.68" stroke="#bcbcbc" stroke-width="0.85" opacity="1"/><path d="M328.08 115.63L328.47 115.18" stroke="#bcbcbc" stroke-width="0.85" opacity="1"/><path d="M328.64 116.13L329.04 115.69" stroke="#bcbcbc" stroke-width="0.85" opacity="1"/><path d="M329.20 116.64L329.61 116.20" stroke="#bcbcbc" stroke-width="0.85" opacity="1"/><path d="M329.75 117.16L330.17 116.72" stroke="#bcbcbc" stroke-width="0.85" opacity="1"/><path d="M330.30 117.68L330.72 117.25" stroke="#bcbcbc" stroke-width="0.85" opacity="1"/><path d="M330.84 118.21L332.57 116.48" stroke="#bcbcbc" stroke-width="0.6" opacity="0.8"/><path d="M331.37 118.75L331.80 118.33" stroke="#bcbcbc" stroke-width="0.85" opacity="1"/><path d="M331.89 119.30L332.33 118.88" stroke="#bcbcbc" stroke-width="0.85" opacity="1"/><path d="M332.41 119.85L332.85 119.44" stroke="#bcbcbc" stroke-width="0.85" opacity="1"/><path d="M332.92 120.41L333.36 120.01" stroke="#bcbcbc" stroke-width="0.85" opacity="1"/><path d="M333.42 120.97L333.87 120.58" stroke="#bcbcbc" stroke-width="0.85" opacity="1"/><path d="M333.91 121.54L334.37 121.15" stroke="#bcbcbc" stroke-width="0.85" opacity="1"/><path d="M334.40 122.12L334.86 121.74" stroke="#bcbcbc" stroke-width="0.85" opacity="1"/><path d="M334.88 122.71L335.35 122.33" stroke="#bcbcbc" stroke-width="0.85" opacity="1"/><path d="M335.35 123.30L335.82 122.93" stroke="#bcbcbc" stroke-width="0.85" opacity="1"/><path d="M335.82 123.89L336.29 123.53" stroke="#fdb30f" stroke-width="0.85" opacity="1"/><path d="M336.27 124.50L336.75 124.14" stroke="#fdb30f" stroke-width="0.85" opacity="1"/><path d="M336.72 125.11L337.21 124.75" stroke="#fdb30f" stroke-width="0.85" opacity="1"/><path d="M337.16 125.72L337.65 125.37" stroke="#fdb30f" stroke-width="0.85" opacity="1"/><path d="M337.59 126.34L338.09 126.00" stroke="#fdb30f" stroke-width="0.85" opacity="1"/><path d="M338.02 126.97L338.52 126.63" stroke="#fdb30f" stroke-width="0.85" opacity="1"/><path d="M338.43 127.60L338.94 127.27" stroke="#fdb30f" stroke-width="0.85" opacity="1"/><path d="M338.84 128.23L339.35 127.91" stroke="#fdb30f" stroke-width="0.85" opacity="1"/><path d="M339.24 128.88L339.75 128.56" stroke="#fdb30f" stroke-width="0.85" opacity="1"/><path d="M339.63 129.52L340.15 129.22" stroke="#fdb30f" stroke-width="0.85" opacity="1"/><path d="M340.01 130.18L342.13 128.95" stroke="#fdb30f" stroke-width="0.6" opacity="0.8"/><path d="M340.39 130.83L340.91 130.54" stroke="#fdb30f" stroke-width="0.85" opacity="1"/><path d="M340.75 131.49L341.28 131.21" stroke="#fdb30f" stroke-width="0.85" opacity="1"/><path d="M341.11 132.16L341.64 131.88" stroke="#fdb30f" stroke-width="0.85" opacity="1"/><path d="M341.46 132.83L341.99 132.56" stroke="#fdb30f" stroke-width="0.85" opacity="1"/><path d="M341.79 133.51L342.33 133.24" stroke="#fdb30f" stroke-width="0.85" opacity="1"/><path d="M342.12 134.19L342.67 133.93" stroke="#fdb30f" stroke-width="0.85" opacity="1"/><path d="M342.45 134.87L342.99 134.62" stroke="#fdb30f" stroke-width="0.85" opacity="1"/><path d="M342.76 135.56L343.31 135.32" stroke="#fdb30f" stroke-width="0.85" opacity="1"/><path d="M343.06 136.25L343.61 136.02" stroke="#fdb30f" stroke-width="0.85" opacity="1"/><path d="M343.35 136.95L343.91 136.72" stroke="#ec3b41" stroke-width="0.85" opacity="1"/><path d="M343.64 137.65L344.20 137.43" stroke="#ec3b41" stroke-width="0.85" opacity="1"/><path d="M343.91 138.35L344.47 138.14" stroke="#ec3b41" stroke-width="0.85" opacity="1"/><path d="M344.18 139.06L344.74 138.85" stroke="#ec3b41" stroke-width="0.85" opacity="1"/><path d="M344.44 139.77L345.00 139.57" stroke="#ec3b41" stroke-width="0.85" opacity="1"/><path d="M344.69 140.49L345.25 140.29" stroke="#ec3b41" stroke-width="0.85" opacity="1"/><path d="M344.92 141.20L345.49 141.02" stroke="#ec3b41" stroke-width="0.85" opacity="1"/><path d="M345.15 141.92L345.73 141.75" stroke="#ec3b41" stroke-width="0.85" opacity="1"/><path d="M345.37 142.65L345.95 142.48" stroke="#ec3b41" stroke-width="0.85" opacity="1"/><path d="M345.58 143.37L346.16 143.21" stroke="#ec3b41" stroke-width="0.85" opacity="1"/><path d="M345.78 144.10L348.15 143.47" stroke="#ec3b41" stroke-width="0.6" opacity="0.8"/><path d="M345.97 144.83L346.55 144.69" stroke="#ec3b41" stroke-width="0.85" opacity="1"/><path d="M346.15 145.57L346.74 145.43" stroke="#ec3b41" stroke-width="0.85" opacity="1"/><path d="M346.33 146.30L346.91 146.17" stroke="#ec3b41" stroke-width="0.85" opacity="1"/><path d="M346.49 147.04L347.07 146.92" stroke="#ec3b41" stroke-width="0.85" opacity="1"/><path d="M346.64 147.78L347.23 147.67" stroke="#ec3b41" stroke-width="0.85" opacity="1"/><path d="M346.78 148.53L347.37 148.42" stroke="#ec3b41" stroke-width="0.85" opacity="1"/><path d="M346.92 149.27L347.51 149.17" stroke="#ec3b41" stroke-width="0.85" opacity="1"/><path d="M347.04 150.02L347.63 149.92" stroke="#ec3b41" stroke-width="0.85" opacity="1"/><path d="M347.15 150.76L347.75 150.68" stroke="#ec3b41" stroke-width="0.85" opacity="1"/><path d="M347.26 151.51L347.85 151.43" stroke="#ec3b41" stroke-width="0.85" opacity="1"/><path d="M347.35 152.26L347.95 152.19" stroke="#ec3b41" stroke-width="0.85" opacity="1"/><path d="M347.43 153.01L348.03 152.95" stroke="#ec3b41" stroke-width="0.85" opacity="1"/><path d="M347.51 153.77L348.11 153.71" stroke="#ec3b41" stroke-width="0.85" opacity="1"/><path d="M347.57 154.52L348.17 154.47" stroke="#ec3b41" stroke-width="0.85" opacity="1"/><path d="M347.63 155.27L348.23 155.23" stroke="#ec3b41" stroke-width="0.85" opacity="1"/><path d="M347.67 156.03L348.27 156.00" stroke="#ec3b41" stroke-width="0.85" opacity="1"/><path d="M347.71 156.78L348.31 156.76" stroke="#ec3b41" stroke-width="0.85" opacity="1"/><path d="M347.73 157.54L348.33 157.52" stroke="#ec3b41" stroke-width="0.85" opacity="1"/><path d="M347.75 158.29L348.35 158.29" stroke="#ec3b41" stroke-width="0.85" opacity="1"/><path d="M347.75 159.05L350.20 159.05" stroke="#ec3b41" stroke-width="0.6" opacity="0.8"/><path d="M253.03 114.36L265.20 129.08" stroke="#111" stroke-width="1.15"/>
<defs><clipPath id="c454"><path d="M398.20000000000005 156.65A55.9 55.9 0 0 1 510.0 156.65Q510.0 159.05 507.6 159.05L495.95 159.05Q493.55 159.05 493.55 156.65A39.45 39.45 0 0 0 414.65000000000003 156.65Q414.65000000000003 159.05 412.25000000000006 159.05L400.6 159.05Q398.20000000000005 159.05 398.20000000000005 156.65Z"/></clipPath></defs><g clip-path="url(#c454)"><path d="M397.20 159.05A56.9 56.9 0 0 1 507.00 138.10L489.85 144.90A38.45 38.45 0 0 0 415.65 159.05Z" fill="#0cc46e"/><path d="M506.87 137.77A56.9 56.9 0 0 1 510.55 151.92L492.25 154.23A38.45 38.45 0 0 0 489.76 144.67Z" fill="#fdb30f"/><path d="M510.51 151.56A56.9 56.9 0 0 1 511.00 159.05L492.55 159.05A38.45 38.45 0 0 0 492.22 153.99Z" fill="#ec3b41"/></g><path d="M396.50 159.05L393.90 159.05" stroke="#bcbcbc" stroke-width="0.6" opacity="0.8"/><path d="M396.61 155.43L395.52 155.36" stroke="#bcbcbc" stroke-width="0.85" opacity="1"/><path d="M396.95 151.83L395.86 151.69" stroke="#bcbcbc" stroke-width="0.85" opacity="1"/><path d="M397.52 148.26L396.44 148.05" stroke="#bcbcbc" stroke-width="0.85" opacity="1"/><path d="M398.31 144.73L397.24 144.45" stroke="#bcbcbc" stroke-width="0.85" opacity="1"/><path d="M399.32 141.25L398.27 140.91" stroke="#bcbcbc" stroke-width="0.85" opacity="1"/><path d="M400.54 137.85L399.52 137.44" stroke="#bcbcbc" stroke-width="0.85" opacity="1"/><path d="M401.98 134.53L400.99 134.06" stroke="#bcbcbc" stroke-width="0.85" opacity="1"/><path d="M403.62 131.30L402.66 130.77" stroke="#bcbcbc" stroke-width="0.85" opacity="1"/><path d="M405.47 128.19L404.54 127.60" stroke="#bcbcbc" stroke-width="0.85" opacity="1"/><path d="M407.50 125.19L405.40 123.67" stroke="#bcbcbc" stroke-width="0.6" opacity="0.8"/><path d="M409.72 122.33L408.87 121.63" stroke="#bcbcbc" stroke-width="0.85" opacity="1"/><path d="M412.11 119.62L411.31 118.87" stroke="#bcbcbc" stroke-width="0.85" opacity="1"/><path d="M414.67 117.06L413.92 116.26" stroke="#bcbcbc" stroke-width="0.85" opacity="1"/><path d="M417.38 114.67L416.68 113.82" stroke="#bcbcbc" stroke-width="0.85" opacity="1"/><path d="M420.24 112.45L419.60 111.56" stroke="#bcbcbc" stroke-width="0.85" opacity="1"/><path d="M423.24 110.42L422.65 109.49" stroke="#bcbcbc" stroke-width="0.85" opacity="1"/><path d="M426.35 108.57L425.82 107.61" stroke="#bcbcbc" stroke-width="0.85" opacity="1"/><path d="M429.58 106.93L429.11 105.94" stroke="#bcbcbc" stroke-width="0.85" opacity="1"/><path d="M432.90 105.49L432.49 104.47" stroke="#bcbcbc" stroke-width="0.85" opacity="1"/><path d="M436.30 104.27L435.50 101.80" stroke="#bcbcbc" stroke-width="0.6" opacity="0.8"/><path d="M439.78 103.26L439.50 102.19" stroke="#bcbcbc" stroke-width="0.85" opacity="1"/><path d="M443.31 102.47L443.10 101.39" stroke="#bcbcbc" stroke-width="0.85" opacity="1"/><path d="M446.88 101.90L446.74 100.81" stroke="#bcbcbc" stroke-width="0.85" opacity="1"/><path d="M450.48 101.56L450.41 100.47" stroke="#bcbcbc" stroke-width="0.85" opacity="1"/><path d="M454.10 101.45L454.10 100.35" stroke="#bcbcbc" stroke-width="0.85" opacity="1"/><path d="M457.72 101.56L457.79 100.47" stroke="#bcbcbc" stroke-width="0.85" opacity="1"/><path d="M461.32 101.90L461.46 100.81" stroke="#bcbcbc" stroke-width="0.85" opacity="1"/><path d="M464.89 102.47L465.10 101.39" stroke="#bcbcbc" stroke-width="0.85" opacity="1"/><path d="M468.42 103.26L468.70 102.19" stroke="#bcbcbc" stroke-width="0.85" opacity="1"/><path d="M471.90 104.27L472.70 101.80" stroke="#bcbcbc" stroke-width="0.6" opacity="0.8"/><path d="M475.30 105.49L475.71 104.47" stroke="#bcbcbc" stroke-width="0.85" opacity="1"/><path d="M478.62 106.93L479.09 105.94" stroke="#bcbcbc" stroke-width="0.85" opacity="1"/><path d="M481.85 108.57L482.38 107.61" stroke="#bcbcbc" stroke-width="0.85" opacity="1"/><path d="M484.96 110.42L485.55 109.49" stroke="#bcbcbc" stroke-width="0.85" opacity="1"/><path d="M487.96 112.45L488.60 111.56" stroke="#bcbcbc" stroke-width="0.85" opacity="1"/><path d="M490.82 114.67L491.52 113.82" stroke="#bcbcbc" stroke-width="0.85" opacity="1"/><path d="M493.53 117.06L494.28 116.26" stroke="#bcbcbc" stroke-width="0.85" opacity="1"/><path d="M496.09 119.62L496.89 118.87" stroke="#bcbcbc" stroke-width="0.85" opacity="1"/><path d="M498.48 122.33L499.33 121.63" stroke="#bcbcbc" stroke-width="0.85" opacity="1"/><path d="M500.70 125.19L502.80 123.67" stroke="#bcbcbc" stroke-width="0.6" opacity="0.8"/><path d="M502.73 128.19L503.66 127.60" stroke="#bcbcbc" stroke-width="0.85" opacity="1"/><path d="M504.58 131.30L505.54 130.77" stroke="#bcbcbc" stroke-width="0.85" opacity="1"/><path d="M506.22 134.53L507.21 134.06" stroke="#bcbcbc" stroke-width="0.85" opacity="1"/><path d="M507.66 137.85L508.68 137.44" stroke="#fdb30f" stroke-width="0.85" opacity="1"/><path d="M508.88 141.25L509.93 140.91" stroke="#fdb30f" stroke-width="0.85" opacity="1"/><path d="M509.89 144.73L510.96 144.45" stroke="#fdb30f" stroke-width="0.85" opacity="1"/><path d="M510.68 148.26L511.76 148.05" stroke="#fdb30f" stroke-width="0.85" opacity="1"/><path d="M511.25 151.83L512.34 151.69" stroke="#ec3b41" stroke-width="0.85" opacity="1"/><path d="M511.59 155.43L512.68 155.36" stroke="#ec3b41" stroke-width="0.85" opacity="1"/><path d="M511.70 159.05L514.30 159.05" stroke="#ec3b41" stroke-width="0.6" opacity="0.8"/><path d="M468.24 102.80L463.58 121.32" stroke="#111" stroke-width="1.15"/>
<rect x="54.60" y="280.3" width="0.6" height="1.5" fill="#ec3b41"/>
<rect x="60.06" y="280.3" width="0.6" height="1.5" fill="#ec3b41"/>
<rect x="65.51" y="280.3" width="0.6" height="1.5" fill="#ec3b41"/>
<rect x="70.96" y="280.3" width="0.6" height="1.5" fill="#ec3b41"/>
<rect x="76.42" y="280.3" width="0.6" height="1.5" fill="#ec3b41"/>
<rect x="81.88" y="280.3" width="0.6" height="1.5" fill="#ec3b41"/>
<rect x="87.33" y="280.3" width="0.6" height="1.5" fill="#fdb30f"/>
<rect x="92.79" y="280.3" width="0.6" height="1.5" fill="#fdb30f"/>
<rect x="98.24" y="280.3" width="0.6" height="1.5" fill="#aaa"/>
<rect x="103.69" y="280.3" width="0.6" height="1.5" fill="#aaa"/>
<rect x="109.15" y="280.3" width="0.6" height="1.5" fill="#aaa"/>
<rect x="114.61" y="280.3" width="0.6" height="1.5" fill="#aaa"/>
<rect x="120.06" y="280.3" width="0.6" height="1.5" fill="#aaa"/>
<rect x="125.51" y="280.3" width="0.6" height="1.5" fill="#fdb30f"/>
<rect x="130.97" y="280.3" width="0.6" height="1.5" fill="#fdb30f"/>
<rect x="136.42" y="280.3" width="0.6" height="1.5" fill="#ec3b41"/>
<rect x="141.88" y="280.3" width="0.6" height="1.5" fill="#ec3b41"/>
<rect x="147.34" y="280.3" width="0.6" height="1.5" fill="#ec3b41"/>
<rect x="152.79" y="280.3" width="0.6" height="1.5" fill="#ec3b41"/>
<rect x="158.24" y="280.3" width="0.6" height="1.5" fill="#ec3b41"/>
<rect x="163.70" y="280.3" width="0.6" height="1.5" fill="#ec3b41"/>
<path d="M77.9 345.80H254.7" stroke="#eeeeee" stroke-width="0.6"/><path d="M77.9 358.82H254.7" stroke="#eeeeee" stroke-width="0.6"/><path d="M77.9 371.84H254.7" stroke="#eeeeee" stroke-width="0.6"/><path d="M77.9 384.86H254.7" stroke="#eeeeee" stroke-width="0.6"/><path d="M77.9 397.88H254.7" stroke="#eeeeee" stroke-width="0.6"/><path d="M77.9 410.90H254.7" stroke="#eeeeee" stroke-width="0.6"/><path d="M77.9 344.8V410.9" stroke="#e2e2e2" stroke-width="0.6"/><polyline points="77.90,378.35 100.00,365.33 122.10,358.82 144.20,365.33 166.30,352.31 188.40,358.82 210.50,358.82 232.60,358.82 254.70,345.80" fill="none" stroke="#b648ac" stroke-width="1.1" stroke-linejoin="round"/><polyline points="77.90,384.86 100.00,397.88 122.10,384.86 144.20,378.35 166.30,384.86 188.40,378.35 210.50,384.86 232.60,378.35 254.70,371.84" fill="none" stroke="#45b3f5" stroke-width="1.1" stroke-linejoin="round"/><polyline points="77.90,397.88 100.00,410.90 122.10,397.88 144.20,397.88 166.30,397.88 188.40,391.37 210.50,397.88 232.60,404.39 254.70,397.88" fill="none" stroke="#ffc337" stroke-width="1.1" stroke-linejoin="round"/>
<rect x="55.2" y="461.8" width="7" height="7" rx="1" fill="#ae2ca0"/><path d="M57.1 465.4l1.2 1.2l2.2 -2.6" fill="none" stroke="#fff" stroke-width="0.85"/>
<rect x="81.80000000000001" y="461.8" width="7" height="7" rx="1" fill="#24a2f5"/><path d="M83.70000000000002 465.4l1.2 1.2l2.2 -2.6" fill="none" stroke="#fff" stroke-width="0.85"/>
<rect x="108.4" y="461.8" width="7" height="7" rx="1" fill="#ffb412"/><path d="M110.30000000000001 465.4l1.2 1.2l2.2 -2.6" fill="none" stroke="#fff" stroke-width="0.85"/>
<path d="M307.2 345.80H484.7" stroke="#eeeeee" stroke-width="0.6"/><path d="M307.2 358.82H484.7" stroke="#eeeeee" stroke-width="0.6"/><path d="M307.2 371.84H484.7" stroke="#eeeeee" stroke-width="0.6"/><path d="M307.2 384.86H484.7" stroke="#eeeeee" stroke-width="0.6"/><path d="M307.2 397.88H484.7" stroke="#eeeeee" stroke-width="0.6"/><path d="M307.2 410.90H484.7" stroke="#eeeeee" stroke-width="0.6"/><path d="M307.2 344.8V410.9" stroke="#e2e2e2" stroke-width="0.6"/><polyline points="307.20,371.84 326.92,371.84 346.64,371.84 366.37,378.35 386.09,371.84 405.81,371.84 425.53,365.33 445.26,371.84 464.98,371.84 484.70,366.63" fill="none" stroke="#b648ac" stroke-width="1.1" stroke-linejoin="round"/><polyline points="307.20,365.33 326.92,371.84 346.64,358.82 366.37,365.33 386.09,358.82 405.81,352.31 425.53,358.82 445.26,352.31 464.98,352.31 484.70,347.75" fill="none" stroke="#45b3f5" stroke-width="1.1" stroke-linejoin="round"/><polyline points="307.20,410.90 326.92,404.39 346.64,397.88 366.37,404.39 386.09,397.88 405.81,397.88 425.53,397.88 445.26,404.39 464.98,397.88" fill="none" stroke="#ffc337" stroke-width="1.1" stroke-linejoin="round"/>
<rect x="285" y="461.8" width="7" height="7" rx="1" fill="#ae2ca0"/><path d="M286.9 465.4l1.2 1.2l2.2 -2.6" fill="none" stroke="#fff" stroke-width="0.85"/>
<rect x="308.3" y="461.8" width="7" height="7" rx="1" fill="#24a2f5"/><path d="M310.2 465.4l1.2 1.2l2.2 -2.6" fill="none" stroke="#fff" stroke-width="0.85"/>
<rect x="331.6" y="461.8" width="7" height="7" rx="1" fill="#ffb412"/><path d="M333.5 465.4l1.2 1.2l2.2 -2.6" fill="none" stroke="#fff" stroke-width="0.85"/>
<path d="M537.2 345.80H747.7" stroke="#eeeeee" stroke-width="0.6"/><path d="M537.2 356.65H747.7" stroke="#eeeeee" stroke-width="0.6"/><path d="M537.2 367.50H747.7" stroke="#eeeeee" stroke-width="0.6"/><path d="M537.2 378.35H747.7" stroke="#eeeeee" stroke-width="0.6"/><path d="M537.2 389.20H747.7" stroke="#eeeeee" stroke-width="0.6"/><path d="M537.2 400.05H747.7" stroke="#eeeeee" stroke-width="0.6"/><path d="M537.2 410.90H747.7" stroke="#eeeeee" stroke-width="0.6"/><path d="M537.2 344.8V410.9" stroke="#e2e2e2" stroke-width="0.6"/><polyline points="537.20,370.54 560.59,370.54 583.98,370.54 607.37,370.54 630.76,370.54 654.14,370.75 677.53,370.75 700.92,370.97 724.31,370.97" fill="none" stroke="#45b3f5" stroke-width="1.1" stroke-linejoin="round"/><polyline points="537.20,410.25 560.59,409.81 583.98,410.03 607.37,409.60 630.76,410.25 654.14,409.60 677.53,409.60 700.92,409.60 724.31,409.60" fill="none" stroke="#ffc337" stroke-width="1.1" stroke-linejoin="round"/><polyline points="537.20,408.73 560.59,409.38 583.98,404.82 607.37,408.73 630.76,403.74 654.14,403.52 677.53,408.73 700.92,408.73 724.31,402.87 747.70,408.73" fill="none" stroke="#35cc83" stroke-width="1.1" stroke-linejoin="round"/><polyline points="537.20,394.19 560.59,388.55 583.98,356.22 607.37,385.94 630.76,394.62 654.14,355.56 677.53,393.11 700.92,394.62 724.31,357.08 747.70,392.24" fill="none" stroke="#b648ac" stroke-width="1.1" stroke-linejoin="round"/>
<rect x="514.6" y="461.8" width="7" height="7" rx="1" fill="#ae2ca0"/><path d="M516.5 465.4l1.2 1.2l2.2 -2.6" fill="none" stroke="#fff" stroke-width="0.85"/>
<rect x="535.3000000000001" y="461.8" width="7" height="7" rx="1" fill="#24a2f5"/><path d="M537.2 465.4l1.2 1.2l2.2 -2.6" fill="none" stroke="#fff" stroke-width="0.85"/>
<rect x="556.0000000000001" y="461.8" width="7" height="7" rx="1" fill="#ffb412"/><path d="M557.9000000000001 465.4l1.2 1.2l2.2 -2.6" fill="none" stroke="#fff" stroke-width="0.85"/>
<rect x="576.7000000000002" y="461.8" width="7" height="7" rx="1" fill="#14c46e"/><path d="M578.6000000000001 465.4l1.2 1.2l2.2 -2.6" fill="none" stroke="#fff" stroke-width="0.85"/>
<g stroke="#777" stroke-width="0.5" fill="none"><path d="M830.8 136.8L832 138L830.8 139.2M836.2 136.8L835 138L836.2 139.2M832.9 139.2L833.5 139.9L834.1 139.2"/></g></svg>
<svg width="840" height="525" viewBox="0 0 840 525" style="will-change:transform"><g><text transform="translate(17.40 133.03) matrix(1 0.001 0 1 0 0)" font-size="6.2" fill="#505050" font-weight="700" text-anchor="middle">Д</text>
<text transform="translate(44.00 14.01) matrix(1 0.001 0 1 0 0)" font-size="7" fill="#3a3a3a" textLength="35.5" lengthAdjust="spacing">Дашборды</text>
<text transform="translate(92.70 14.01) matrix(1 0.001 0 1 0 0)" font-size="7" fill="#8b8b8b" textLength="37.4" lengthAdjust="spacing">Устройства</text>
<text transform="translate(143.30 14.01) matrix(1 0.001 0 1 0 0)" font-size="7" fill="#8b8b8b" textLength="28.7" lengthAdjust="spacing">Скрипты</text>
<text transform="translate(185.20 14.01) matrix(1 0.001 0 1 0 0)" font-size="7" fill="#8b8b8b" textLength="43.9" lengthAdjust="spacing">Уведомления</text>
<text transform="translate(242.40 14.01) matrix(1 0.001 0 1 0 0)" font-size="7" fill="#8b8b8b" textLength="73.3" lengthAdjust="spacing">Исторические данные</text>
<text transform="translate(328.90 14.01) matrix(1 0.001 0 1 0 0)" font-size="7" fill="#8b8b8b" textLength="35.4" lengthAdjust="spacing">Настройки</text>
<text transform="translate(48.50 40.27) matrix(1 0.001 0 1 0 0)" font-size="9.5" fill="#303030" textLength="45.3" lengthAdjust="spacing">Мощность</text>
<text transform="translate(48.60 204.87) matrix(1 0.001 0 1 0 0)" font-size="9.5" fill="#303030" textLength="93.5" lengthAdjust="spacing">Характеристики сети</text>
<text transform="translate(48.70 500.07) matrix(1 0.001 0 1 0 0)" font-size="9.5" fill="#303030" textLength="113.5" lengthAdjust="spacing">Качество электроэнергии</text>
<text transform="translate(62.44 159.38) matrix(1 0.001 0 1 0 0)" font-size="5.6" fill="#8a8a92" text-anchor="middle">0</text>
<text transform="translate(65.54 142.38) matrix(1 0.001 0 1 0 0)" font-size="5.6" fill="#8a8a92" text-anchor="middle">3</text>
<text transform="translate(74.54 124.62) matrix(1 0.001 0 1 0 0)" font-size="5.6" fill="#8a8a92" text-anchor="middle">6</text>
<text transform="translate(88.56 109.42) matrix(1 0.001 0 1 0 0)" font-size="5.6" fill="#8a8a92" text-anchor="middle">9</text>
<text transform="translate(105.74 100.37) matrix(1 0.001 0 1 0 0)" font-size="5.6" fill="#8a8a92" text-anchor="middle">12</text>
<text transform="translate(125.80 97.25) matrix(1 0.001 0 1 0 0)" font-size="5.6" fill="#8a8a92" text-anchor="middle">15</text>
<text transform="translate(145.86 100.37) matrix(1 0.001 0 1 0 0)" font-size="5.6" fill="#8a8a92" text-anchor="middle">18</text>
<text transform="translate(163.96 109.42) matrix(1 0.001 0 1 0 0)" font-size="5.6" fill="#8a8a92" text-anchor="middle">21</text>
<text transform="translate(178.32 124.62) matrix(1 0.001 0 1 0 0)" font-size="5.6" fill="#8a8a92" text-anchor="middle">24</text>
<text transform="translate(187.54 142.38) matrix(1 0.001 0 1 0 0)" font-size="5.6" fill="#8a8a92" text-anchor="middle">27</text>
<text transform="translate(190.71 159.38) matrix(1 0.001 0 1 0 0)" font-size="5.6" fill="#8a8a92" text-anchor="middle">30</text>
<text transform="translate(57.10 72.01) matrix(1 0.001 0 1 0 0)" font-size="7" fill="#2b2f3e" font-weight="700">Активная, P</text>
<text transform="translate(125.80 157.36) matrix(1 0.001 0 1 0 0)" font-size="9.2" fill="#222" font-weight="700" text-anchor="middle">8.46 кВт</text>
<text transform="translate(225.71 159.38) matrix(1 0.001 0 1 0 0)" font-size="5.6" fill="#8a8a92" text-anchor="middle">-6</text>
<text transform="translate(227.90 145.58) matrix(1 0.001 0 1 0 0)" font-size="5.6" fill="#8a8a92" text-anchor="middle">-5</text>
<text transform="translate(234.32 130.21) matrix(1 0.001 0 1 0 0)" font-size="5.6" fill="#8a8a92" text-anchor="middle">-4</text>
<text transform="translate(244.54 117.02) matrix(1 0.001 0 1 0 0)" font-size="5.6" fill="#8a8a92" text-anchor="middle">-3</text>
<text transform="translate(257.86 105.79) matrix(1 0.001 0 1 0 0)" font-size="5.6" fill="#8a8a92" text-anchor="middle">-2</text>
<text transform="translate(273.36 99.42) matrix(1 0.001 0 1 0 0)" font-size="5.6" fill="#8a8a92" text-anchor="middle">-1</text>
<text transform="translate(290.00 97.25) matrix(1 0.001 0 1 0 0)" font-size="5.6" fill="#8a8a92" text-anchor="middle">0</text>
<text transform="translate(306.40 99.42) matrix(1 0.001 0 1 0 0)" font-size="5.6" fill="#8a8a92" text-anchor="middle">1</text>
<text transform="translate(321.68 105.79) matrix(1 0.001 0 1 0 0)" font-size="5.6" fill="#8a8a92" text-anchor="middle">2</text>
<text transform="translate(334.80 117.02) matrix(1 0.001 0 1 0 0)" font-size="5.6" fill="#8a8a92" text-anchor="middle">3</text>
<text transform="translate(344.87 130.21) matrix(1 0.001 0 1 0 0)" font-size="5.6" fill="#8a8a92" text-anchor="middle">4</text>
<text transform="translate(351.20 145.58) matrix(1 0.001 0 1 0 0)" font-size="5.6" fill="#8a8a92" text-anchor="middle">5</text>
<text transform="translate(353.36 159.38) matrix(1 0.001 0 1 0 0)" font-size="5.6" fill="#8a8a92" text-anchor="middle">6</text>
<text transform="translate(221.00 72.01) matrix(1 0.001 0 1 0 0)" font-size="7" fill="#2b2f3e" font-weight="700">Реактивная, Q</text>
<text transform="translate(290.00 157.36) matrix(1 0.001 0 1 0 0)" font-size="9.2" fill="#222" font-weight="700" text-anchor="middle">-2.64 кВар</text>
<text transform="translate(390.74 159.38) matrix(1 0.001 0 1 0 0)" font-size="5.6" fill="#8a8a92" text-anchor="middle">0</text>
<text transform="translate(402.84 124.62) matrix(1 0.001 0 1 0 0)" font-size="5.6" fill="#8a8a92" text-anchor="middle">5</text>
<text transform="translate(434.04 100.37) matrix(1 0.001 0 1 0 0)" font-size="5.6" fill="#8a8a92" text-anchor="middle">10</text>
<text transform="translate(474.16 100.37) matrix(1 0.001 0 1 0 0)" font-size="5.6" fill="#8a8a92" text-anchor="middle">15</text>
<text transform="translate(506.62 124.62) matrix(1 0.001 0 1 0 0)" font-size="5.6" fill="#8a8a92" text-anchor="middle">20</text>
<text transform="translate(519.01 159.38) matrix(1 0.001 0 1 0 0)" font-size="5.6" fill="#8a8a92" text-anchor="middle">25</text>
<text transform="translate(385.30 72.01) matrix(1 0.001 0 1 0 0)" font-size="7" fill="#2b2f3e" font-weight="700">Полная, S</text>
<text transform="translate(454.10 157.36) matrix(1 0.001 0 1 0 0)" font-size="9.2" fill="#222" font-weight="700" text-anchor="middle">14.46 кВА</text>
<text transform="translate(621.00 78.04) matrix(1 0.001 0 1 0 0)" font-size="6.5" fill="#4c4c4c">P, кВт</text>
<text transform="translate(688.50 78.04) matrix(1 0.001 0 1 0 0)" font-size="6.5" fill="#4c4c4c">Q, кВар</text>
<text transform="translate(546.60 95.54) matrix(1 0.001 0 1 0 0)" font-size="6.5" fill="#4c4c4c">Фаза A</text>
<text transform="translate(621.00 95.54) matrix(1 0.001 0 1 0 0)" font-size="6.5" fill="#4c4c4c">2.44</text>
<text transform="translate(688.50 95.54) matrix(1 0.001 0 1 0 0)" font-size="6.5" fill="#4c4c4c">-0.1</text>
<text transform="translate(546.60 113.04) matrix(1 0.001 0 1 0 0)" font-size="6.5" fill="#4c4c4c">Фаза B</text>
<text transform="translate(621.00 113.04) matrix(1 0.001 0 1 0 0)" font-size="6.5" fill="#4c4c4c">5.0</text>
<text transform="translate(688.50 113.04) matrix(1 0.001 0 1 0 0)" font-size="6.5" fill="#4c4c4c">-2.06</text>
<text transform="translate(546.60 130.64) matrix(1 0.001 0 1 0 0)" font-size="6.5" fill="#4c4c4c">Фаза C</text>
<text transform="translate(621.00 130.64) matrix(1 0.001 0 1 0 0)" font-size="6.5" fill="#4c4c4c">1.02</text>
<text transform="translate(688.50 130.64) matrix(1 0.001 0 1 0 0)" font-size="6.5" fill="#4c4c4c">-0.48</text>
<text transform="translate(55.00 235.88) matrix(1 0.001 0 1 0 0)" font-size="7.2" fill="#2b2f3e" font-weight="700">Частота сети</text>
<text transform="translate(54.40 256.22) matrix(1 0.001 0 1 0 0)" font-size="14" fill="#222">49.98 Гц</text>
<text transform="translate(58.00 288.25) matrix(1 0.001 0 1 0 0)" font-size="5.1" fill="#858585" text-anchor="middle">49</text>
<text transform="translate(109.20 288.25) matrix(1 0.001 0 1 0 0)" font-size="5.1" fill="#858585" text-anchor="middle">50</text>
<text transform="translate(161.00 288.25) matrix(1 0.001 0 1 0 0)" font-size="5.1" fill="#858585" text-anchor="middle">51</text>
<text transform="translate(185.70 233.98) matrix(1 0.001 0 1 0 0)" font-size="7.5" fill="#333">Напряжения</text>
<text transform="translate(266.70 250.84) matrix(1 0.001 0 1 0 0)" font-size="6.5" fill="#4c4c4c">A(AB)</text>
<text transform="translate(323.30 250.84) matrix(1 0.001 0 1 0 0)" font-size="6.5" fill="#4c4c4c">B(BC)</text>
<text transform="translate(379.50 250.84) matrix(1 0.001 0 1 0 0)" font-size="6.5" fill="#4c4c4c">C(CA)</text>
<text transform="translate(185.70 268.54) matrix(1 0.001 0 1 0 0)" font-size="6.5" fill="#4c4c4c">Линейное</text>
<text transform="translate(266.70 268.54) matrix(1 0.001 0 1 0 0)" font-size="6.5" fill="#4c4c4c">408.3</text>
<text transform="translate(323.30 268.54) matrix(1 0.001 0 1 0 0)" font-size="6.5" fill="#4c4c4c">407.9</text>
<text transform="translate(379.50 268.54) matrix(1 0.001 0 1 0 0)" font-size="6.5" fill="#4c4c4c">407.7</text>
<text transform="translate(185.70 286.14) matrix(1 0.001 0 1 0 0)" font-size="6.5" fill="#4c4c4c">Фазное</text>
<text transform="translate(266.70 286.14) matrix(1 0.001 0 1 0 0)" font-size="6.5" fill="#4c4c4c">235.6</text>
<text transform="translate(323.30 286.14) matrix(1 0.001 0 1 0 0)" font-size="6.5" fill="#4c4c4c">235.9</text>
<text transform="translate(379.50 286.14) matrix(1 0.001 0 1 0 0)" font-size="6.5" fill="#4c4c4c">235.2</text>
<text transform="translate(448.60 233.88) matrix(1 0.001 0 1 0 0)" font-size="7.5" fill="#333">Токи</text>
<text transform="translate(448.60 250.84) matrix(1 0.001 0 1 0 0)" font-size="6.5" fill="#4c4c4c">Фазы</text>
<text transform="translate(557.10 250.84) matrix(1 0.001 0 1 0 0)" font-size="6.5" fill="#4c4c4c">A</text>
<text transform="translate(612.20 250.84) matrix(1 0.001 0 1 0 0)" font-size="6.5" fill="#4c4c4c">B</text>
<text transform="translate(668.90 250.84) matrix(1 0.001 0 1 0 0)" font-size="6.5" fill="#4c4c4c">C</text>
<text transform="translate(717.40 250.84) matrix(1 0.001 0 1 0 0)" font-size="6.5" fill="#4c4c4c">N</text>
<text transform="translate(448.60 268.64) matrix(1 0.001 0 1 0 0)" font-size="6.5" fill="#4c4c4c">Значение, A</text>
<text transform="translate(557.10 268.64) matrix(1 0.001 0 1 0 0)" font-size="6.5" fill="#4c4c4c">13.2</text>
<text transform="translate(612.20 268.64) matrix(1 0.001 0 1 0 0)" font-size="6.5" fill="#4c4c4c">23.4</text>
<text transform="translate(668.90 268.64) matrix(1 0.001 0 1 0 0)" font-size="6.5" fill="#4c4c4c">5.6</text>
<text transform="translate(717.40 268.64) matrix(1 0.001 0 1 0 0)" font-size="6.5" fill="#4c4c4c">6.0</text>
<text transform="translate(55.30 335.21) matrix(1 0.001 0 1 0 0)" font-size="7" fill="#2b2f3e" font-weight="700">Тренд линейного напряжения, В</text>
<text transform="translate(73.30 347.66) matrix(1 0.001 0 1 0 0)" font-size="5.4" fill="#606060" text-anchor="end">408,3</text>
<text transform="translate(73.30 360.68) matrix(1 0.001 0 1 0 0)" font-size="5.4" fill="#606060" text-anchor="end">408,1</text>
<text transform="translate(73.30 373.70) matrix(1 0.001 0 1 0 0)" font-size="5.4" fill="#606060" text-anchor="end">407,9</text>
<text transform="translate(73.30 386.72) matrix(1 0.001 0 1 0 0)" font-size="5.4" fill="#606060" text-anchor="end">407,7</text>
<text transform="translate(73.30 399.74) matrix(1 0.001 0 1 0 0)" font-size="5.4" fill="#606060" text-anchor="end">407,5</text>
<text transform="translate(73.30 412.76) matrix(1 0.001 0 1 0 0)" font-size="5.4" fill="#606060" text-anchor="end">407,3</text>
<text x="78.90" y="418.30" font-size="5.4" fill="#777" text-anchor="end" transform="rotate(-58 78.90 416.50)">15.04.24 10:06:53</text>
<text x="101.00" y="418.30" font-size="5.4" fill="#777" text-anchor="end" transform="rotate(-58 101.00 416.50)">15.04.24 10:06:56</text>
<text x="123.10" y="418.30" font-size="5.4" fill="#777" text-anchor="end" transform="rotate(-58 123.10 416.50)">15.04.24 10:06:58</text>
<text x="145.20" y="418.30" font-size="5.4" fill="#777" text-anchor="end" transform="rotate(-58 145.20 416.50)">15.04.24 10:07:03</text>
<text x="167.30" y="418.30" font-size="5.4" fill="#777" text-anchor="end" transform="rotate(-58 167.30 416.50)">15.04.24 10:07:06</text>
<text x="189.40" y="418.30" font-size="5.4" fill="#777" text-anchor="end" transform="rotate(-58 189.40 416.50)">15.04.24 10:07:09</text>
<text x="211.50" y="418.30" font-size="5.4" fill="#777" text-anchor="end" transform="rotate(-58 211.50 416.50)">15.04.24 13:07:20</text>
<text x="233.60" y="418.30" font-size="5.4" fill="#777" text-anchor="end" transform="rotate(-58 233.60 416.50)">15.04.24 13:07:20</text>
<text x="255.70" y="418.30" font-size="5.4" fill="#777" text-anchor="end" transform="rotate(-58 255.70 416.50)">15.04.24 10:07:19</text>
<text transform="translate(64.80 467.26) matrix(1 0.001 0 1 0 0)" font-size="5.4" fill="#484848">Uab</text>
<text transform="translate(91.40 467.26) matrix(1 0.001 0 1 0 0)" font-size="5.4" fill="#484848">Ubc</text>
<text transform="translate(118.00 467.26) matrix(1 0.001 0 1 0 0)" font-size="5.4" fill="#484848">Uca</text>
<text transform="translate(285.00 335.21) matrix(1 0.001 0 1 0 0)" font-size="7" fill="#2b2f3e" font-weight="700">Тренд фазного напряжения, В</text>
<text transform="translate(302.60 347.66) matrix(1 0.001 0 1 0 0)" font-size="5.4" fill="#606060" text-anchor="end">235,90</text>
<text transform="translate(302.60 360.68) matrix(1 0.001 0 1 0 0)" font-size="5.4" fill="#606060" text-anchor="end">235,70</text>
<text transform="translate(302.60 373.70) matrix(1 0.001 0 1 0 0)" font-size="5.4" fill="#606060" text-anchor="end">235,50</text>
<text transform="translate(302.60 386.72) matrix(1 0.001 0 1 0 0)" font-size="5.4" fill="#606060" text-anchor="end">235,30</text>
<text transform="translate(302.60 399.74) matrix(1 0.001 0 1 0 0)" font-size="5.4" fill="#606060" text-anchor="end">235,10</text>
<text transform="translate(302.60 412.76) matrix(1 0.001 0 1 0 0)" font-size="5.4" fill="#606060" text-anchor="end">234,90</text>
<text x="308.20" y="418.30" font-size="5.4" fill="#777" text-anchor="end" transform="rotate(-58 308.20 416.50)">15.04.24 10:06:47</text>
<text x="327.92" y="418.30" font-size="5.4" fill="#777" text-anchor="end" transform="rotate(-58 327.92 416.50)">15.04.24 13:07:20</text>
<text x="347.64" y="418.30" font-size="5.4" fill="#777" text-anchor="end" transform="rotate(-58 347.64 416.50)">15.04.24 13:07:20</text>
<text x="367.37" y="418.30" font-size="5.4" fill="#777" text-anchor="end" transform="rotate(-58 367.37 416.50)">15.04.24 10:06:53</text>
<text x="387.09" y="418.30" font-size="5.4" fill="#777" text-anchor="end" transform="rotate(-58 387.09 416.50)">15.04.24 10:06:55</text>
<text x="406.81" y="418.30" font-size="5.4" fill="#777" text-anchor="end" transform="rotate(-58 406.81 416.50)">15.04.24 13:07:20</text>
<text x="426.53" y="418.30" font-size="5.4" fill="#777" text-anchor="end" transform="rotate(-58 426.53 416.50)">15.04.24 10:07:06</text>
<text x="446.26" y="418.30" font-size="5.4" fill="#777" text-anchor="end" transform="rotate(-58 446.26 416.50)">15.04.24 10:07:09</text>
<text x="465.98" y="418.30" font-size="5.4" fill="#777" text-anchor="end" transform="rotate(-58 465.98 416.50)">15.04.24 13:07:20</text>
<text x="485.70" y="418.30" font-size="5.4" fill="#777" text-anchor="end" transform="rotate(-58 485.70 416.50)">15.04.24 10:07:19</text>
<text transform="translate(294.60 467.26) matrix(1 0.001 0 1 0 0)" font-size="5.4" fill="#484848">Ua</text>
<text transform="translate(317.90 467.26) matrix(1 0.001 0 1 0 0)" font-size="5.4" fill="#484848">Ub</text>
<text transform="translate(341.20 467.26) matrix(1 0.001 0 1 0 0)" font-size="5.4" fill="#484848">Uc</text>
<text transform="translate(514.60 335.21) matrix(1 0.001 0 1 0 0)" font-size="7" fill="#2b2f3e" font-weight="700">Тренд тока, А</text>
<text transform="translate(532.60 347.66) matrix(1 0.001 0 1 0 0)" font-size="5.4" fill="#606060" text-anchor="end">35</text>
<text transform="translate(532.60 358.51) matrix(1 0.001 0 1 0 0)" font-size="5.4" fill="#606060" text-anchor="end">30</text>
<text transform="translate(532.60 369.36) matrix(1 0.001 0 1 0 0)" font-size="5.4" fill="#606060" text-anchor="end">25</text>
<text transform="translate(532.60 380.21) matrix(1 0.001 0 1 0 0)" font-size="5.4" fill="#606060" text-anchor="end">20</text>
<text transform="translate(532.60 391.06) matrix(1 0.001 0 1 0 0)" font-size="5.4" fill="#606060" text-anchor="end">15</text>
<text transform="translate(532.60 401.91) matrix(1 0.001 0 1 0 0)" font-size="5.4" fill="#606060" text-anchor="end">10</text>
<text transform="translate(532.60 412.76) matrix(1 0.001 0 1 0 0)" font-size="5.4" fill="#606060" text-anchor="end">5</text>
<text x="538.20" y="418.30" font-size="5.4" fill="#777" text-anchor="end" transform="rotate(-58 538.20 416.50)">15.04.24 10:06:56</text>
<text x="561.59" y="418.30" font-size="5.4" fill="#777" text-anchor="end" transform="rotate(-58 561.59 416.50)">15.04.24 10:06:58</text>
<text x="584.98" y="418.30" font-size="5.4" fill="#777" text-anchor="end" transform="rotate(-58 584.98 416.50)">15.04.24 10:07:00</text>
<text x="608.37" y="418.30" font-size="5.4" fill="#777" text-anchor="end" transform="rotate(-58 608.37 416.50)">15.04.24 10:07:03</text>
<text x="631.76" y="418.30" font-size="5.4" fill="#777" text-anchor="end" transform="rotate(-58 631.76 416.50)">15.04.24 10:07:06</text>
<text x="655.14" y="418.30" font-size="5.4" fill="#777" text-anchor="end" transform="rotate(-58 655.14 416.50)">15.04.24 10:07:09</text>
<text x="678.53" y="418.30" font-size="5.4" fill="#777" text-anchor="end" transform="rotate(-58 678.53 416.50)">15.04.24 10:07:11</text>
<text x="701.92" y="418.30" font-size="5.4" fill="#777" text-anchor="end" transform="rotate(-58 701.92 416.50)">15.04.24 10:07:14</text>
<text x="725.31" y="418.30" font-size="5.4" fill="#777" text-anchor="end" transform="rotate(-58 725.31 416.50)">15.04.24 10:07:16</text>
<text x="748.70" y="418.30" font-size="5.4" fill="#777" text-anchor="end" transform="rotate(-58 748.70 416.50)">15.04.24 10:07:19</text>
<text transform="translate(524.20 467.26) matrix(1 0.001 0 1 0 0)" font-size="5.4" fill="#484848">Ia</text>
<text transform="translate(544.90 467.26) matrix(1 0.001 0 1 0 0)" font-size="5.4" fill="#484848">Ib</text>
<text transform="translate(565.60 467.26) matrix(1 0.001 0 1 0 0)" font-size="5.4" fill="#484848">Ic</text>
<text transform="translate(586.30 467.26) matrix(1 0.001 0 1 0 0)" font-size="5.4" fill="#484848">In</text></g></svg>
</body></html>
